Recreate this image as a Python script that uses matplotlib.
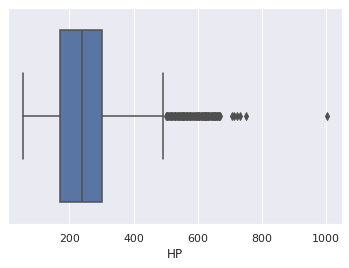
import numpy as np
import matplotlib
matplotlib.use("Agg")
import matplotlib.pyplot as plt
import seaborn as sns

sns.set_theme()

# summary of the HP column
hp_min = 55
hp_q1 = 171
hp_median = 240
hp_q3 = 302
hp_whisker_hi = 492
hp_outliers = [500, 503, 505, 507, 510, 512, 515, 518, 520, 523, 525, 528,
               530, 532, 535, 537, 540, 543, 545, 548, 550, 552, 553, 555,
               556, 558, 560, 562, 565, 567, 570, 573, 575, 577, 580, 583,
               585, 588, 591, 593, 595, 598, 600, 602, 604, 605, 608, 610,
               612, 614, 616, 618, 620, 621, 622, 624, 625, 627, 630, 631,
               633, 635, 638, 640, 643, 645, 647, 650, 651, 653, 655, 658,
               660, 661, 662, 665, 667, 670,
               705, 713, 722, 731, 751, 1001]

stats = [dict(whislo=hp_min, q1=hp_q1, med=hp_median, q3=hp_q3,
              whishi=hp_whisker_hi, fliers=np.array(hp_outliers))]

box_color = sns.desaturate(sns.color_palette("deep")[0], 0.75)
gray = "#4f4f4f"

fig = plt.figure(figsize=(349 / 72, 268 / 72), dpi=72)
ax = fig.add_axes([8 / 349, 1 - 224 / 268, 334 / 349, 216 / 268])

ax.bxp(stats, positions=[0], widths=0.8, capwidths=0.4,
       orientation="horizontal", patch_artist=True,
       boxprops=dict(facecolor=box_color, edgecolor=gray, linewidth=1.5),
       medianprops=dict(color=gray, linewidth=1.5),
       whiskerprops=dict(color=gray, linewidth=1.5),
       capprops=dict(color=gray, linewidth=1.5),
       flierprops=dict(marker="d", markersize=5, markerfacecolor=gray,
                       markeredgecolor=gray, linestyle="none"))

ax.set_ylim(0.5, -0.5)
ax.set_yticks([])
ax.set_xlim(9, 1049)
ax.set_xticks([200, 400, 600, 800, 1000])
ax.set_xticklabels(["200", "400", "600", "800", "1000"])
ax.set_xlabel("HP")

fig.savefig("out.png", dpi=72)
